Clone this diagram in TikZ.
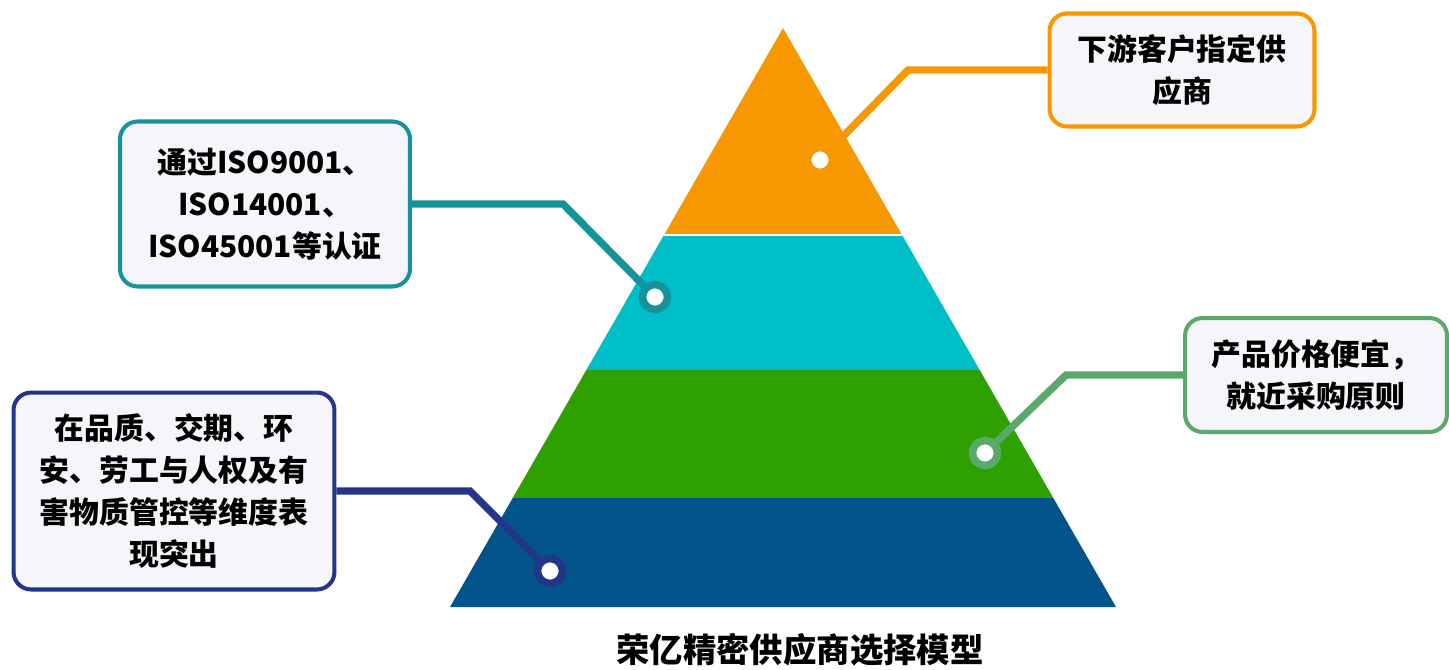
\documentclass[tikz,border=0pt]{standalone}
\usepackage{fontspec}
\setmainfont{Noto Sans CJK SC}
\usepackage{tikz}
\usetikzlibrary{calc,positioning}
\definecolor{pyrorange}{RGB}{247,152,0}
\definecolor{pyrcyan}{RGB}{0,190,200}
\definecolor{pyrgreen}{RGB}{46,160,0}
\definecolor{pyrblue}{RGB}{2,84,138}
\definecolor{linkteal}{RGB}{21,146,154}
\definecolor{linkgreen}{RGB}{91,168,107}
\definecolor{linknavy}{RGB}{35,54,138}
\definecolor{boxfill}{RGB}{245,245,250}
\tikzset{info box/.style={draw,rounded corners=10pt,line width=2.3pt,fill=boxfill,align=center,inner sep=0pt,font=\fontsize{17}{24}\selectfont\bfseries},
ring dot/.style={circle,draw,fill=white,line width=4.3pt,minimum size=0.5cm,inner sep=0pt},
link/.style={line width=4.2pt}}

\begin{document}
\begin{tikzpicture}[x=0.02cm,y=-0.02cm]
        \useasboundingbox (0,0) rectangle (1449,669);

        \foreach \ytop/\ybot/\col in {28/235/pyrorange,235/370/pyrcyan,370/498/pyrgreen,498/607/pyrblue}{
        	\fill [\col] ({783-0.5751*(\ytop-28)},\ytop) -- ({783+0.5751*(\ytop-28)},\ytop) -- ({783+0.5751*(\ybot-28)},\ybot) -- ({783-0.5751*(\ybot-28)},\ybot) -- cycle;
        }
        \draw [white,line width=1.2pt] ({783-0.5751*207},235) -- ({783+0.5751*207},235);

        \node [info box,draw=pyrorange,minimum width=5.3cm,minimum height=2.26cm] (top) at (1182,70) {下游客户指定供\\应商};
        \node [info box,draw=linkteal,minimum width=5.8cm,minimum height=3.3cm] (cert) at (265,204) {通过ISO9001、\\ISO14001、\\ISO45001等认证};
        \node [info box,draw=linkgreen,minimum width=5.24cm,minimum height=2.28cm] (price) at (1316,375) {产品价格便宜，\\就近采购原则};
        \node [info box,draw=linknavy,minimum width=6.42cm,minimum height=3.94cm] (quality) at (174,491) {在品质、交期、环\\安、劳工与人权及有\\害物质管控等维度表\\现突出};

        \node [ring dot,draw=pyrorange] (d1) at (820,160) {};
        \node [ring dot,draw=linkteal] (d2) at (655,297) {};
        \node [ring dot,draw=linkgreen] (d3) at (985,453) {};
        \node [ring dot,draw=linknavy] (d4) at (550,571) {};

        \coordinate (b1) at (908,70);
        \coordinate (b2) at (563,204);
        \coordinate (b3) at (1066,375);
        \coordinate (b4) at (470,491);

        \draw [link,pyrorange] (d1) -- (b1) -- (top.west);
        \draw [link,linkteal] (d2) -- (b2) -- (cert.east);
        \draw [link,linkgreen] (d3) -- (b3) -- (price.west);
        \draw [link,linknavy] (d4) -- (b4) -- (quality.east);

        \node [font=\fontsize{19}{19}\selectfont\bfseries] (title) at (800,650) {荣亿精密供应商选择模型};
        \end{tikzpicture}
\end{document}
